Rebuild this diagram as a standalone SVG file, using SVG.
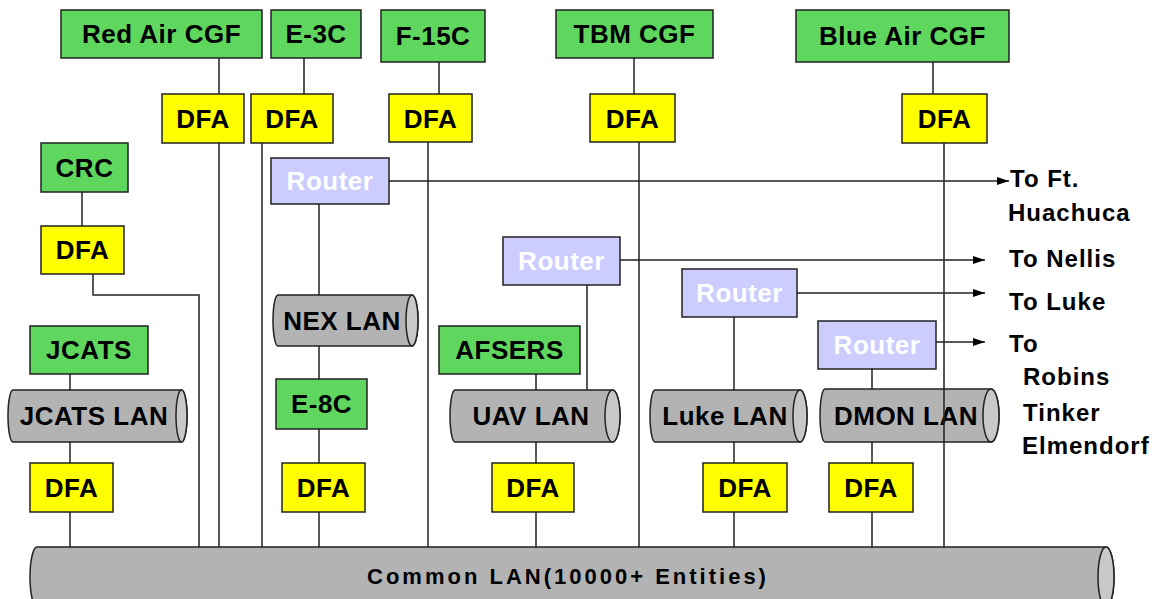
<svg xmlns="http://www.w3.org/2000/svg" width="1167" height="599" viewBox="0 0 1167 599">
<defs>
<style>
.g{fill:#5fd75f;stroke:#222;stroke-width:1.5}
.y{fill:#ffff00;stroke:#222;stroke-width:1.5}
.r{fill:#ccccff;stroke:#222;stroke-width:1.5}
.lan{fill:#b3b3b3;stroke:#222;stroke-width:1.5}
.cap{fill:#c8c8c8;stroke:#222;stroke-width:1.5}
.t{font-family:"Liberation Sans",Arial,sans-serif;font-weight:bold;font-size:26px;fill:#000;text-anchor:middle;letter-spacing:0.5px}
.tw{font-family:"Liberation Sans",Arial,sans-serif;font-weight:bold;font-size:26px;fill:#fff;text-anchor:middle;letter-spacing:0.5px}
.tl{font-family:"Liberation Sans",Arial,sans-serif;font-weight:bold;font-size:24px;fill:#000;letter-spacing:1px}
.tc{font-family:"Liberation Sans",Arial,sans-serif;font-weight:bold;font-size:22px;fill:#000;text-anchor:middle;letter-spacing:3px}
.c{fill:none;stroke:#222;stroke-width:1.5}
</style>
<marker id="ah" viewBox="0 0 12 10" refX="12" refY="5" markerWidth="12" markerHeight="10" markerUnits="userSpaceOnUse" orient="auto">
<path d="M0,1 L12,5 L0,9 Z" fill="#000"/>
</marker>
</defs>
<rect width="1167" height="599" fill="#fff"/>

<g id="nodes">
<g id="red-air-cgf"><rect class="g" x="61" y="10" width="201" height="48"/><text class="t" x="161.5" y="43">Red Air CGF</text></g>
<g id="e-3c"><rect class="g" x="271" y="10" width="90" height="48"/><text class="t" x="316" y="43">E-3C</text></g>
<g id="f-15c"><rect class="g" x="381" y="10" width="104" height="52"/><text class="t" x="433" y="45">F-15C</text></g>
<g id="tbm-cgf"><rect class="g" x="556" y="10" width="157" height="48"/><text class="t" x="634.5" y="43">TBM CGF</text></g>
<g id="blue-air-cgf"><rect class="g" x="796" y="10" width="213" height="52"/><text class="t" x="902.5" y="45">Blue Air CGF</text></g>

<g id="dfa-red"><rect class="y" x="162" y="94" width="82" height="49"/><text class="t" x="203" y="128">DFA</text></g>
<g id="dfa-e3c"><rect class="y" x="251" y="94" width="82" height="49"/><text class="t" x="292" y="128">DFA</text></g>
<g id="dfa-f15c"><rect class="y" x="389" y="94" width="83" height="48"/><text class="t" x="430.5" y="128">DFA</text></g>
<g id="dfa-tbm"><rect class="y" x="590" y="94" width="85" height="48"/><text class="t" x="632.5" y="128">DFA</text></g>
<g id="dfa-blue"><rect class="y" x="902" y="94" width="85" height="49"/><text class="t" x="944.5" y="128">DFA</text></g>

<g id="crc"><rect class="g" x="41" y="143" width="87" height="49"/><text class="t" x="84.5" y="177">CRC</text></g>
<g id="dfa-crc"><rect class="y" x="41" y="226" width="83" height="48"/><text class="t" x="82.5" y="259">DFA</text></g>

<g id="router-1"><rect class="r" x="271" y="158" width="118" height="46"/><text class="tw" x="330" y="190">Router</text></g>
<g id="router-2"><rect class="r" x="503" y="237" width="117" height="48"/><text class="tw" x="561.5" y="270">Router</text></g>
<g id="router-3"><rect class="r" x="682" y="269" width="115" height="48"/><text class="tw" x="739.5" y="302">Router</text></g>
<g id="router-4"><rect class="r" x="818" y="321" width="118" height="48"/><text class="tw" x="877" y="354">Router</text></g>

<g id="nex-lan"><path class="lan" d="M278,295 L412,295 A6,25.5 0 0 1 412,346 L278,346 A5,25.5 0 0 1 278,295 Z"/><ellipse class="cap" cx="412" cy="320.5" rx="6" ry="25.5"/><text class="t" x="342" y="330">NEX LAN</text></g>
<g id="e-8c"><rect class="g" x="276" y="379" width="91" height="50"/><text class="t" x="321.5" y="413">E-8C</text></g>
<g id="dfa-e8c"><rect class="y" x="282" y="463" width="83" height="49"/><text class="t" x="323.5" y="497">DFA</text></g>

<g id="jcats"><rect class="g" x="30" y="326" width="118" height="48"/><text class="t" x="89" y="359">JCATS</text></g>
<g id="jcats-lan"><path class="lan" d="M13,390 L181.5,390 A5.5,26 0 0 1 181.5,442 L13,442 A5,26 0 0 1 13,390 Z"/><ellipse class="cap" cx="181.5" cy="416" rx="5.5" ry="26"/><text class="t" x="94" y="425">JCATS LAN</text></g>
<g id="dfa-jcats"><rect class="y" x="30" y="463" width="83" height="49"/><text class="t" x="71.5" y="497">DFA</text></g>

<g id="afsers"><rect class="g" x="439" y="326" width="141" height="48"/><text class="t" x="509.5" y="359">AFSERS</text></g>
<g id="uav-lan"><path class="lan" d="M455,390 L612.5,390 A7.5,26 0 0 1 612.5,442 L455,442 A5,26 0 0 1 455,390 Z"/><ellipse class="cap" cx="612.5" cy="416" rx="7.5" ry="26"/><text class="t" x="531" y="425">UAV LAN</text></g>
<g id="dfa-uav"><rect class="y" x="492" y="463" width="82" height="49"/><text class="t" x="533" y="497">DFA</text></g>

<g id="luke-lan"><path class="lan" d="M655,390 L800,390 A7,26 0 0 1 800,442 L655,442 A5,26 0 0 1 655,390 Z"/><ellipse class="cap" cx="800" cy="416" rx="7" ry="26"/><text class="t" x="725" y="425">Luke LAN</text></g>
<g id="dfa-luke"><rect class="y" x="703" y="463" width="84" height="49"/><text class="t" x="745" y="497">DFA</text></g>

<g id="dmon-lan"><path class="lan" d="M825,389 L991,389 A8,26.5 0 0 1 991,442 L825,442 A5,26.5 0 0 1 825,389 Z"/><ellipse class="cap" cx="991" cy="415.5" rx="8" ry="26.5"/><text class="t" x="906" y="425">DMON LAN</text></g>
<g id="dfa-dmon"><rect class="y" x="829" y="463" width="84" height="49"/><text class="t" x="871" y="497">DFA</text></g>

<g id="common-lan"><path class="lan" d="M37,547 L1106,547 A8,30 0 0 1 1106,607 L37,607 A7,30 0 0 1 37,547 Z"/><ellipse class="cap" cx="1106" cy="577" rx="8" ry="30"/><text class="tc" x="568" y="584">Common LAN(10000+ Entities)</text></g>

<g id="labels">
<text class="tl" x="1010" y="187">To Ft.</text>
<text class="tl" x="1008" y="221">Huachuca</text>
<text class="tl" x="1009" y="267">To Nellis</text>
<text class="tl" x="1009" y="310">To Luke</text>
<text class="tl" x="1009" y="352">To</text>
<text class="tl" x="1023" y="385">Robins</text>
<text class="tl" x="1023" y="421">Tinker</text>
<text class="tl" x="1022" y="454">Elmendorf</text>
</g>
</g>

<g id="connectors">
<path class="c" d="M219,58 V94"/>
<path class="c" d="M219,143 V547"/>
<path class="c" d="M304,58 V94"/>
<path class="c" d="M262,143 V547"/>
<path class="c" d="M439,62 V94"/>
<path class="c" d="M428,142 V547"/>
<path class="c" d="M634,58 V94"/>
<path class="c" d="M639,142 V547"/>
<path class="c" d="M933,62 V94"/>
<path class="c" d="M944,143 V547"/>
<path class="c" d="M82,192 V226"/>
<path class="c" d="M93,274 V295 H199 V547"/>
<path class="c" d="M389,181 H1009" marker-end="url(#ah)"/>
<path class="c" d="M319,204 V295"/>
<path class="c" d="M319,346 V379"/>
<path class="c" d="M319,429 V463"/>
<path class="c" d="M319,512 V547"/>
<path class="c" d="M70,374 V390"/>
<path class="c" d="M70,442 V463"/>
<path class="c" d="M70,512 V547"/>
<path class="c" d="M620,260 H985" marker-end="url(#ah)"/>
<path class="c" d="M587,285 V390"/>
<path class="c" d="M536,374 V390"/>
<path class="c" d="M536,442 V463"/>
<path class="c" d="M536,512 V547"/>
<path class="c" d="M797,293 H985" marker-end="url(#ah)"/>
<path class="c" d="M734,317 V390"/>
<path class="c" d="M734,442 V463"/>
<path class="c" d="M734,512 V547"/>
<path class="c" d="M936,342 H985" marker-end="url(#ah)"/>
<path class="c" d="M872,369 V389"/>
<path class="c" d="M872,442 V463"/>
<path class="c" d="M872,512 V547"/>
</g>
</svg>
